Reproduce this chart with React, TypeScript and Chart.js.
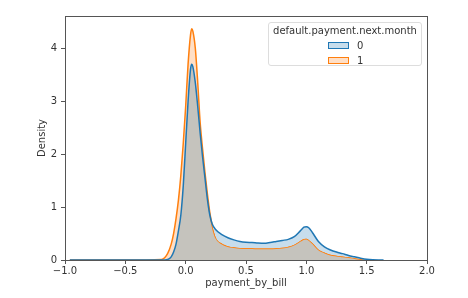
import React, { useEffect, useRef } from "react";
import { Chart, registerables } from "chart.js";

Chart.register(...registerables);

const xs = [-0.96, -0.5, -0.2, -0.15, -0.12, -0.1, -0.08, -0.06, -0.04, -0.02, 0, 0.02, 0.04, 0.05, 0.06, 0.08, 0.1, 0.12, 0.14, 0.16, 0.18, 0.2, 0.22, 0.25, 0.3, 0.35, 0.4, 0.45, 0.5, 0.55, 0.6, 0.65, 0.7, 0.75, 0.8, 0.85, 0.9, 0.95, 0.98, 1.0, 1.02, 1.05, 1.1, 1.15, 1.2, 1.25, 1.3, 1.35, 1.4, 1.45, 1.5, 1.55, 1.6, 1.64];

const density0 = [0, 0, 0, 0.01, 0.06, 0.15, 0.3, 0.55, 0.85, 1.4, 2.2, 3.0, 3.6, 3.7, 3.65, 3.35, 2.9, 2.4, 1.95, 1.55, 1.15, 0.85, 0.68, 0.57, 0.48, 0.42, 0.38, 0.35, 0.335, 0.33, 0.32, 0.315, 0.33, 0.35, 0.37, 0.39, 0.44, 0.55, 0.62, 0.63, 0.61, 0.52, 0.35, 0.25, 0.19, 0.15, 0.12, 0.085, 0.06, 0.035, 0.015, 0.005, 0.001, 0];

const density1 = [0, 0, 0.01, 0.12, 0.3, 0.5, 0.78, 1.13, 1.6, 2.2, 2.9, 3.7, 4.25, 4.37, 4.32, 4.0, 3.35, 2.6, 2.1, 1.65, 1.25, 0.9, 0.65, 0.42, 0.31, 0.26, 0.24, 0.225, 0.22, 0.22, 0.215, 0.215, 0.215, 0.22, 0.23, 0.25, 0.29, 0.36, 0.395, 0.4, 0.38, 0.32, 0.2, 0.14, 0.1, 0.08, 0.065, 0.05, 0.035, 0.015, 0, null, null, null];

const xTicks = [-1, -0.5, 0, 0.5, 1, 1.5, 2];
const yTicks = [0, 1, 2, 3, 4];
const seriesLabels = ["0", "1"];
const legendTitle = "default.payment.next.month";
const xTitle = "payment_by_bill";
const yTitle = "Density";

const FONT = "'DejaVu Sans', sans-serif";
const BLUE = "#1f77b4";
const ORANGE = "#ff7f0e";
const BLUE_FILL = "rgb(199,221,236)";
const ORANGE_FILL = "rgb(255,223,198)";
const GRAY_FILL = "rgb(197,195,189)";

const frame = {
  id: "frame",
  afterDatasetsDraw(chart: any) {
    const { ctx, chartArea } = chart;
    ctx.save();
    ctx.strokeStyle = "#555";
    ctx.lineWidth = 1;
    ctx.strokeRect(
      Math.round(chartArea.left) + 0.5,
      Math.round(chartArea.top) + 0.5,
      Math.round(chartArea.right - chartArea.left),
      Math.round(chartArea.bottom - chartArea.top)
    );
    ctx.restore();
  },
};

export default function App() {
  const ref = useRef<HTMLCanvasElement>(null);
  useEffect(() => {
    const pts = (arr: (number | null)[]) => xs.map((x, i) => ({ x, y: arr[i] }));
    const minArr = xs.map((_, i) => Math.min(density0[i] ?? 0, density1[i] ?? 0));
    const chart = new Chart(ref.current!, {
      type: "line",
      data: {
        datasets: [
          {
            label: seriesLabels[0],
            data: pts(density0) as any,
            borderColor: BLUE,
            borderWidth: 1.5,
            pointRadius: 0,
            cubicInterpolationMode: "monotone",
            fill: { target: 2, above: BLUE_FILL, below: "rgba(0,0,0,0)" } as any,
          },
          {
            label: seriesLabels[1],
            data: pts(density1) as any,
            borderColor: ORANGE,
            borderWidth: 1.5,
            pointRadius: 0,
            cubicInterpolationMode: "monotone",
            fill: { target: 2, above: ORANGE_FILL, below: "rgba(0,0,0,0)" } as any,
          },
          {
            label: "overlap",
            data: pts(minArr) as any,
            borderWidth: 0,
            borderColor: "rgba(0,0,0,0)",
            backgroundColor: GRAY_FILL,
            pointRadius: 0,
            cubicInterpolationMode: "monotone",
            fill: "origin",
          },
        ],
      },
      options: {
        animation: false,
        responsive: false,
        maintainAspectRatio: false,
        layout: { padding: { top: 16, right: 41, left: 36, bottom: 0 } },
        plugins: { legend: { display: false }, tooltip: { enabled: false } },
        scales: {
          x: {
            type: "linear",
            min: -1,
            max: 2,
            afterBuildTicks: (s: any) => {
              s.ticks = xTicks.map((v) => ({ value: v }));
            },
            afterFit: (s: any) => {
              s.height = 38;
            },
            grid: { display: true, drawOnChartArea: false, drawTicks: true, tickLength: 4, tickColor: "#555" },
            border: { display: false },
            ticks: {
              maxRotation: 0,
              padding: 1,
              color: "#333",
              font: { family: FONT, size: 10 },
              callback: (v: any) => Number(v).toFixed(1).replace("-", "\u2212"),
            },
            title: { display: true, text: xTitle, color: "#333", font: { family: FONT, size: 10 }, padding: { top: 2, bottom: 9 } },
          },
          y: {
            min: 0,
            max: 4.61,
            afterBuildTicks: (s: any) => {
              s.ticks = yTicks.map((v) => ({ value: v }));
            },
            afterFit: (s: any) => {
              s.width = 29;
            },
            grid: { display: true, drawOnChartArea: false, drawTicks: true, tickLength: 4, tickColor: "#555" },
            border: { display: false },
            ticks: {
              padding: 4,
              color: "#333",
              font: { family: FONT, size: 10 },
              callback: (v: any) => String(v),
            },
            title: { display: true, text: yTitle, color: "#333", font: { family: FONT, size: 10 }, padding: { top: 0, bottom: 4 } },
          },
        },
      },
      plugins: [frame],
    });
    return () => chart.destroy();
  }, []);

  const item = (label: string, stroke: string, fill: string) => (
    <div style={{ display: "flex", alignItems: "center", height: 15, marginLeft: 59 }}>
      <div style={{ width: 19, height: 5, border: `1px solid ${stroke}`, background: fill }} />
      <span style={{ marginLeft: 8 }}>{label}</span>
    </div>
  );

  return (
    <div style={{ position: "fixed", left: 0, top: 0, width: 468, height: 298, background: "#fff" }}>
      <canvas ref={ref} width={468} height={298} style={{ display: "block", width: 468, height: 298 }} />
      <div
        style={{
          position: "absolute",
          left: 268,
          top: 22,
          width: 152,
          height: 42,
          border: "1px solid #ddd",
          borderRadius: 3,
          background: "rgba(255,255,255,0.8)",
          fontFamily: FONT,
          fontSize: 10,
          color: "#333",
          lineHeight: "14px",
          boxSizing: "content-box",
        }}
      >
        <div style={{ textAlign: "center", paddingTop: 1 }}>{legendTitle}</div>
        {item(seriesLabels[0], BLUE, BLUE_FILL)}
        {item(seriesLabels[1], ORANGE, ORANGE_FILL)}
      </div>
    </div>
  );
}
